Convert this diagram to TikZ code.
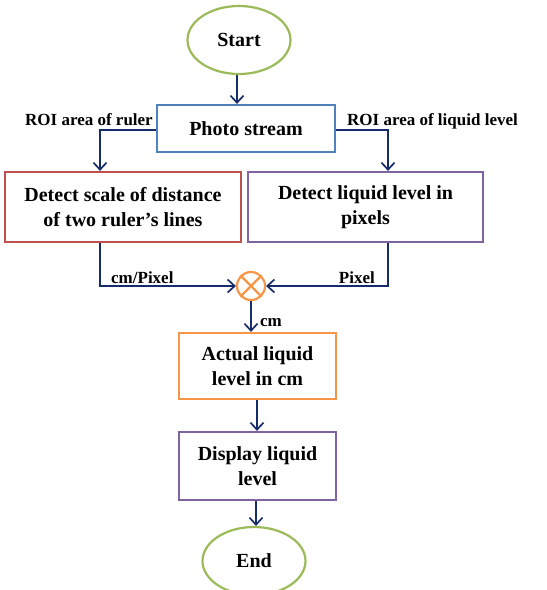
\documentclass[tikz,border=0pt]{standalone}
\usepackage{fontspec}
\setmainfont{Liberation Serif}
\usetikzlibrary{arrows.meta,shapes.geometric}
\definecolor{cgreen}{RGB}{155,187,89}
\definecolor{cblue}{RGB}{79,129,189}
\definecolor{cred}{RGB}{192,80,77}
\definecolor{cpurple}{RGB}{128,100,162}
\definecolor{corange}{RGB}{247,150,70}
\definecolor{cnavy}{RGB}{22,45,105}
\tikzset{
  term/.style={ellipse,draw=cgreen,line width=2.2pt,minimum width=103pt,minimum height=68pt,inner sep=0pt,font=\fontsize{20}{24}\selectfont\bfseries},
  procbox/.style={rectangle,draw,line width=2.2pt,inner sep=0pt,align=center,font=\fontsize{20}{25}\selectfont\bfseries},
  lbl/.style={font=\fontsize{17}{20}\selectfont\bfseries,inner sep=0pt},
  arr/.style={draw=cnavy,line width=1.7pt,-{Straight Barb[length=7pt,width=13pt,line width=1.7pt]}},
  ln/.style={draw=cnavy,line width=1.7pt}
}
\begin{document}
\begin{tikzpicture}[x=1pt,y=-1pt]
\useasboundingbox (0,0) rectangle (547,590);
\node[term] (start) at (239,40) {Start};
\node[procbox,draw=cblue,minimum width=178pt,minimum height=47pt] (photo) at (246,128.5) {Photo stream};
\node[procbox,draw=cred,minimum width=236pt,minimum height=70pt] (det1) at (123,207) {Detect scale of distance\\of two ruler’s lines};
\node[procbox,draw=cpurple,minimum width=235pt,minimum height=70pt] (det2) at (365.5,207) {Detect liquid level in\\pixels};
\node[circle,draw=corange,line width=2.2pt,minimum size=28pt,inner sep=0pt] (mul) at (251,286) {};
\draw[corange,line width=2.2pt] (mul.north west) -- (mul.south east) (mul.north east) -- (mul.south west);
\node[procbox,draw=corange,minimum width=157pt,minimum height=66pt] (act) at (257.5,366) {Actual liquid\\level in cm};
\node[procbox,draw=cpurple,minimum width=157pt,minimum height=68pt] (disp) at (257.5,466) {Display liquid\\level};
\node[term] (end) at (254,561) {End};
\coordinate (a1) at (100,172);
\coordinate (a2) at (388,172);
\draw[arr] (start.south -| 237,0) -- (photo.north -| 237,0);
\draw[arr] (photo.west |- 0,130) -| (det1.north -| a1);
\draw[arr] (photo.east |- 0,130) -| (det2.north -| a2);
\draw[arr] (det1.south -| a1) |- (mul.west);
\draw[arr] (det2.south -| a2) |- (mul.east);
\draw[arr] (mul.south) -- (act.north -| mul.south);
\draw[arr] (act.south -| 257,0) -- (disp.north -| 257,0);
\draw[arr] (disp.south -| 256,0) -- (end.north -| 256,0);
\node[lbl,anchor=base east] (l1) at (153,125) {ROI area of ruler};
\node[lbl,anchor=base west] (l2) at (347,125) {ROI area of liquid level};
\node[lbl,anchor=base west] (l3) at (111,283) {cm/Pixel};
\node[lbl,anchor=base east] (l4) at (375,283) {Pixel};
\node[lbl,anchor=base west] (l5) at (260,326) {cm};
\end{tikzpicture}
\end{document}
